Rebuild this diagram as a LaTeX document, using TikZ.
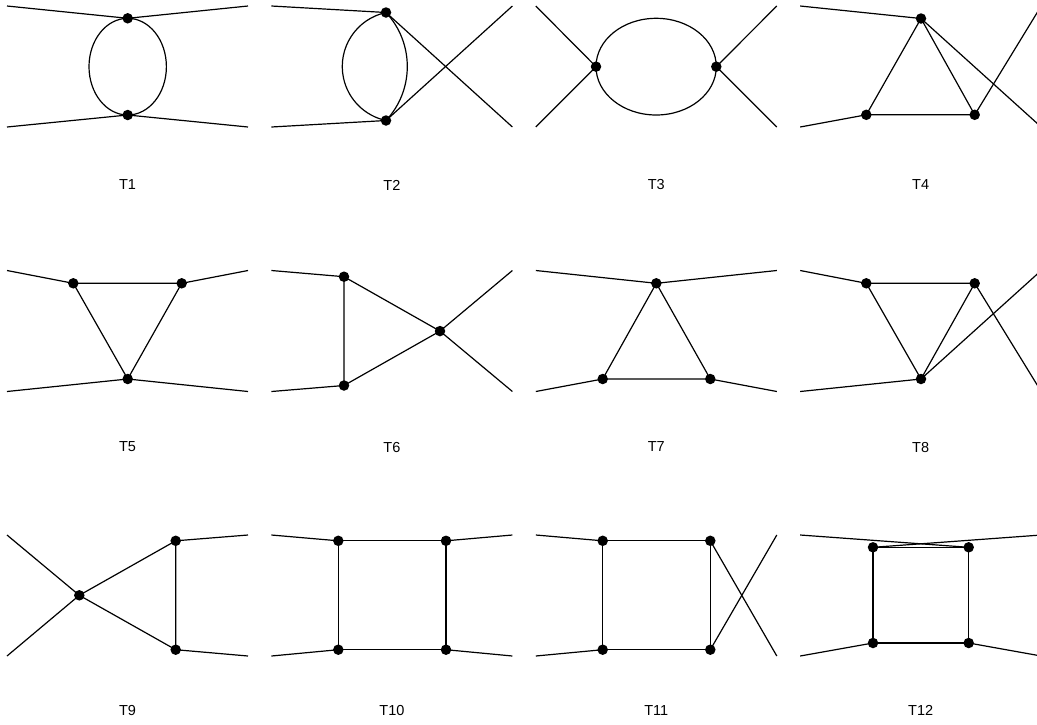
\documentclass[tikz,border=0pt]{standalone}
\usepackage{fontspec}
\setmainfont{Liberation Sans}
\begin{document}
\begin{tikzpicture}[x=1pt,y=-1pt,line width=1.2pt,
  dot/.style={circle,fill=black,draw=none,inner sep=0pt,minimum size=10.5pt},
  lbl/.style={font=\fontsize{14.5}{17}\selectfont,inner sep=0pt},
  ln/.style={draw=black,line width=1.2pt}]
\useasboundingbox (0,0) rectangle (1037,724);
\clip (0,0) rectangle (1037,724);
% ---------- T1
\begin{scope}[shift={(7,6)}]
\coordinate (a1) at (0,0); \coordinate (a2) at (241,0);
\coordinate (a3) at (0,121); \coordinate (a4) at (241,121);
\coordinate (au) at (120.7,12.3); \coordinate (ad) at (120.7,109);
\coordinate (ac) at (120.7,60.65);
\draw[ln] (a1) -- (au) -- (a2);
\draw[ln] (a3) -- (ad) -- (a4);
\draw[ln] (ac) ellipse [x radius=38.7, y radius=48.35];
\node[dot] (au-d) at (au) {}; \node[dot] (ad-d) at (ad) {};
\end{scope}
% ---------- T2
\begin{scope}[shift={(271.4,6)}]
\coordinate (b1) at (0,0); \coordinate (b2) at (241,0);
\coordinate (b3) at (0,121); \coordinate (b4) at (241,121);
\coordinate (bu) at (114.6,6.5); \coordinate (bd) at (114.6,114.5);
\draw[ln] (b1) -- (bu) -- (b4);
\draw[ln] (b3) -- (bd) -- (b2);
\draw[ln] (bu) arc[start angle=258, end angle=102, radius=55.2];
\draw[ln] (bu) arc[start angle=-43.06, end angle=43.06, radius=79.1];
\node[dot] (bu-d) at (bu) {}; \node[dot] (bd-d) at (bd) {};
\end{scope}
% ---------- T3
\begin{scope}[shift={(535.8,6)}]
\coordinate (c1) at (0,0); \coordinate (c2) at (241,0);
\coordinate (c3) at (0,121); \coordinate (c4) at (241,121);
\coordinate (cl) at (60.2,60.65); \coordinate (cr) at (180.5,60.65);
\coordinate (cc) at (120.35,60.65);
\draw[ln] (c1) -- (cl) -- (c3);
\draw[ln] (c2) -- (cr) -- (c4);
\draw[ln] (cc) ellipse [x radius=60.15, y radius=48.35];
\node[dot] (cl-d) at (cl) {}; \node[dot] (cr-d) at (cr) {};
\end{scope}
% ---------- T4
\begin{scope}[shift={(800.2,6)}]
\coordinate (d1) at (0,0); \coordinate (d2) at (241,0);
\coordinate (d3) at (0,121); \coordinate (d4) at (241,121);
\coordinate (du) at (120.8,12.5); \coordinate (dl) at (66.1,108.8);
\coordinate (dr) at (174.5,108.8);
\draw[ln] (d1) -- (du) -- (d4);
\draw[ln] (d3) -- (dl);
\draw[ln] (dr) -- (d2);
\draw[ln] (du) -- (dl) -- (dr) -- cycle;
\node[dot] (du-d) at (du) {}; \node[dot] (dl-d) at (dl) {}; \node[dot] (dr-d) at (dr) {};
\end{scope}
% ---------- T5
\begin{scope}[shift={(7,270.5)}]
\coordinate (e1) at (0,0); \coordinate (e2) at (241,0);
\coordinate (e3) at (0,121); \coordinate (e4) at (241,121);
\coordinate (el) at (66.3,12.8); \coordinate (er) at (174.7,12.8);
\coordinate (ed) at (120.7,108.5);
\draw[ln] (e1) -- (el); \draw[ln] (er) -- (e2);
\draw[ln] (e3) -- (ed) -- (e4);
\draw[ln] (el) -- (er) -- (ed) -- cycle;
\node[dot] (el-d) at (el) {}; \node[dot] (er-d) at (er) {}; \node[dot] (ed-d) at (ed) {};
\end{scope}
% ---------- T6
\begin{scope}[shift={(271.4,270.5)}]
\coordinate (f1) at (0,0); \coordinate (f2) at (241,0);
\coordinate (f3) at (0,121); \coordinate (f4) at (241,121);
\coordinate (fu) at (72.6,6.2); \coordinate (fd) at (72.6,115);
\coordinate (fr) at (168.6,60.6);
\draw[ln] (f1) -- (fu); \draw[ln] (f3) -- (fd);
\draw[ln] (f2) -- (fr) -- (f4);
\draw[ln] (fu) -- (fd) -- (fr) -- cycle;
\node[dot] (fu-d) at (fu) {}; \node[dot] (fd-d) at (fd) {}; \node[dot] (fr-d) at (fr) {};
\end{scope}
% ---------- T7
\begin{scope}[shift={(535.8,270.5)}]
\coordinate (g1) at (0,0); \coordinate (g2) at (241,0);
\coordinate (g3) at (0,121); \coordinate (g4) at (241,121);
\coordinate (gu) at (120.5,12.8); \coordinate (gl) at (66.9,108.5);
\coordinate (gr) at (174.5,108.5);
\draw[ln] (g1) -- (gu) -- (g2);
\draw[ln] (g3) -- (gl); \draw[ln] (gr) -- (g4);
\draw[ln] (gu) -- (gl) -- (gr) -- cycle;
\node[dot] (gu-d) at (gu) {}; \node[dot] (gl-d) at (gl) {}; \node[dot] (gr-d) at (gr) {};
\end{scope}
% ---------- T8
\begin{scope}[shift={(800.2,270.5)}]
\coordinate (h1) at (0,0); \coordinate (h2) at (241,0);
\coordinate (h3) at (0,121); \coordinate (h4) at (241,121);
\coordinate (hl) at (66.1,12.8); \coordinate (hr) at (174.5,12.8);
\coordinate (hd) at (120.8,108.5);
\draw[ln] (h1) -- (hl); \draw[ln] (h3) -- (hd);
\draw[ln] (hd) -- (h2); \draw[ln] (hr) -- (h4);
\draw[ln] (hl) -- (hr) -- (hd) -- cycle;
\node[dot] (hl-d) at (hl) {}; \node[dot] (hr-d) at (hr) {}; \node[dot] (hd-d) at (hd) {};
\end{scope}
% ---------- T9
\begin{scope}[shift={(7,535)}]
\coordinate (i1) at (0,0); \coordinate (i2) at (241,0);
\coordinate (i3) at (0,121); \coordinate (i4) at (241,121);
\coordinate (il) at (72.3,60.3); \coordinate (iu) at (168.7,5.8);
\coordinate (id) at (168.7,114.7);
\draw[ln] (i1) -- (il) -- (i3);
\draw[ln] (iu) -- (i2); \draw[ln] (id) -- (i4);
\draw[ln] (il) -- (iu) -- (id) -- cycle;
\node[dot] (il-d) at (il) {}; \node[dot] (iu-d) at (iu) {}; \node[dot] (id-d) at (id) {};
\end{scope}
% ---------- T10
\begin{scope}[shift={(271.4,535)}]
\coordinate (j1) at (0,0); \coordinate (j2) at (241,0);
\coordinate (j3) at (0,121); \coordinate (j4) at (241,121);
\coordinate (jul) at (66.9,5.8); \coordinate (jur) at (174.6,5.8);
\coordinate (jdl) at (66.9,114.7); \coordinate (jdr) at (174.6,114.7);
\draw[ln] (j1) -- (jul); \draw[ln] (jur) -- (j2);
\draw[ln] (j3) -- (jdl); \draw[ln] (jdr) -- (j4);
\draw[ln] (jul) -- (jur) -- (jdr) -- (jdl) -- cycle;
\node[dot] (jul-d) at (jul) {}; \node[dot] (jur-d) at (jur) {};
\node[dot] (jdl-d) at (jdl) {}; \node[dot] (jdr-d) at (jdr) {};
\end{scope}
% ---------- T11
\begin{scope}[shift={(535.8,535)}]
\coordinate (k1) at (0,0); \coordinate (k2) at (241,0);
\coordinate (k3) at (0,121); \coordinate (k4) at (241,121);
\coordinate (kul) at (66.9,5.8); \coordinate (kur) at (174.5,5.8);
\coordinate (kdl) at (66.9,114.7); \coordinate (kdr) at (174.5,114.7);
\draw[ln] (k1) -- (kul); \draw[ln] (k3) -- (kdl);
\draw[ln] (kur) -- (k4); \draw[ln] (kdr) -- (k2);
\draw[ln] (kul) -- (kur) -- (kdr) -- (kdl) -- cycle;
\node[dot] (kul-d) at (kul) {}; \node[dot] (kur-d) at (kur) {};
\node[dot] (kdl-d) at (kdl) {}; \node[dot] (kdr-d) at (kdr) {};
\end{scope}
% ---------- T12
\begin{scope}[shift={(800.2,535)}]
\coordinate (l1) at (0,0); \coordinate (l2) at (241,0);
\coordinate (l3) at (0,121); \coordinate (l4) at (241,121);
\coordinate (lul) at (72.8,12.3); \coordinate (lur) at (168.5,12.3);
\coordinate (ldl) at (72.8,108); \coordinate (ldr) at (168.5,108);
\draw[ln] (l1) -- (lur); \draw[ln] (l2) -- (lul);
\draw[ln] (l3) -- (ldl); \draw[ln] (ldr) -- (l4);
\draw[ln] (lul) -- (lur) -- (ldr) -- (ldl) -- cycle;
\node[dot] (lul-d) at (lul) {}; \node[dot] (lur-d) at (lur) {};
\node[dot] (ldl-d) at (ldl) {}; \node[dot] (ldr-d) at (ldr) {};
\end{scope}
% ---------- labels
\node[lbl] (T1) at (127.5,185) {T1};
\node[lbl] (T2) at (391.9,185) {T2};
\node[lbl] (T3) at (656.3,185) {T3};
\node[lbl] (T4) at (920.7,185) {T4};
\node[lbl] (T5) at (127.5,447) {T5};
\node[lbl] (T6) at (391.9,447) {T6};
\node[lbl] (T7) at (656.3,447) {T7};
\node[lbl] (T8) at (920.7,447) {T8};
\node[lbl] (T9) at (127.5,710.5) {T9};
\node[lbl] (T10) at (391.9,710.5) {T10};
\node[lbl] (T11) at (656.3,710.5) {T11};
\node[lbl] (T12) at (920.7,710.5) {T12};
\end{tikzpicture}
\end{document}
